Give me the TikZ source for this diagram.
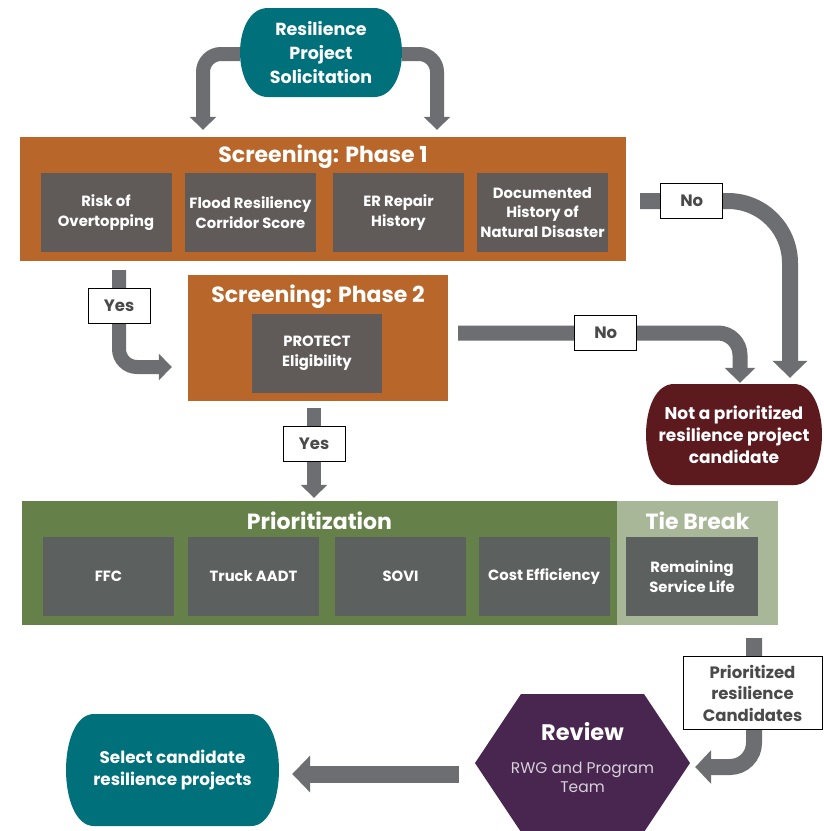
\documentclass[tikz,border=0pt]{standalone}
\usepackage{fontspec}
\setmainfont{Poppins}
\usetikzlibrary{arrows.meta}
\definecolor{solteal}{HTML}{00707A}
\definecolor{phorange}{HTML}{B9662B}
\definecolor{phgray}{HTML}{605B58}
\definecolor{priogreen}{HTML}{66804A}
\definecolor{tiegreen}{HTML}{A8B797}
\definecolor{priogray}{HTML}{5C605E}
\definecolor{notred}{HTML}{5C1A1F}
\definecolor{revpurple}{HTML}{48264F}
\definecolor{revtext}{HTML}{D8D0DA}
\definecolor{arrowgray}{HTML}{6D6E71}
\definecolor{lblgray}{HTML}{4A4A4A}
\begin{document}
\begin{tikzpicture}[x=1pt,y=-1pt,
    term/.style={text=white, align=center, inner sep=0pt, font=\bfseries\fontsize{17.5}{24}\selectfont,
      path picture={\fill[#1] ([xshift=28pt]path picture bounding box.north west) -- ([xshift=-28pt]path picture bounding box.north east)
        .. controls ([xshift=9.3pt]path picture bounding box.north east) and ([xshift=9.3pt]path picture bounding box.south east) .. ([xshift=-28pt]path picture bounding box.south east)
        -- ([xshift=28pt]path picture bounding box.south west)
        .. controls ([xshift=-9.3pt]path picture bounding box.south west) and ([xshift=-9.3pt]path picture bounding box.north west) .. cycle;}},
    phase/.style={fill=phorange, inner sep=0pt},
    crit/.style={fill=phgray, text=white, align=center, minimum width=131pt, minimum height=79pt, inner sep=0pt, font=\bfseries\fontsize{14.8}{19.5}\selectfont},
    ttl/.style={text=white, font=\bfseries\fontsize{22}{24}\selectfont},
    lbl/.style={draw=black, fill=white, sharp corners, line width=0.8pt, text=lblgray, align=center, minimum width=62pt, minimum height=35pt, inner sep=2pt, font=\bfseries\fontsize{16.5}{21.5}\selectfont},
    flow/.style={draw=arrowgray, line width=14pt, rounded corners=18pt, -{Triangle[width=26pt,length=13pt]}},
    hexa/.style={minimum width=215pt, minimum height=138pt, inner sep=0pt,
      path picture={\fill[revpurple] (path picture bounding box.west) -- ([xshift=46pt]path picture bounding box.north west) -- ([xshift=-46pt]path picture bounding box.north east) -- (path picture bounding box.east) -- ([xshift=-46pt]path picture bounding box.south east) -- ([xshift=46pt]path picture bounding box.south west) -- cycle;}}]
  \useasboundingbox[fill=white] (0,0) rectangle (824,831);
  % start
  \node[term=solteal, minimum width=162pt, minimum height=89pt] (sol) at (321,52.5) {Resilience\\Project\\Solicitation};
  % screening phase 1
  \node[phase, minimum width=606pt, minimum height=124pt] (ph1) at (323,199) {};
  \node[ttl] (ph1t) at ([yshift=-20pt]ph1.north) {Screening: Phase 1};
  \node[crit] (risk) at (106,212.5) {Risk of\\Overtopping};
  \node[crit] (flood) at (250.5,212.5) {Flood Resiliency\\Corridor Score};
  \node[crit] (er) at (398.5,212.5) {ER Repair\\History};
  \node[crit] (doc) at (542.5,212.5) {Documented\\History of\\Natural Disaster};
  % screening phase 2
  \node[phase, minimum width=260pt, minimum height=126pt] (ph2) at (318,338) {};
  \node[ttl] (ph2t) at ([yshift=-22pt]ph2.north) {Screening: Phase 2};
  \node[crit, minimum width=130pt] (protect) at (317,353.5) {PROTECT\\Eligibility};
  % rejected
  \node[term=notred, minimum width=176pt, minimum height=101pt, font=\bfseries\fontsize{17}{22}\selectfont] (np) at (734,434.5) {Not a prioritized\\resilience project\\candidate};
  % prioritization and tie break
  \node[fill=priogreen, minimum width=595pt, minimum height=124pt, inner sep=0pt] (prio) at (319.5,563) {};
  \node[fill=tiegreen, minimum width=161pt, minimum height=124pt, inner sep=0pt] (tie) at (697.5,563) {};
  \node[ttl] (priot) at ([yshift=-20pt]prio.north) {Prioritization};
  \node[ttl] (tiet) at ([yshift=-20pt]tie.north) {Tie Break};
  \node[crit, fill=priogray] (ffc) at (108.5,576.5) {FFC};
  \node[crit, fill=priogray] (aadt) at (253.5,576.5) {Truck AADT};
  \node[crit, fill=priogray] (sovi) at (400.5,576.5) {SOVI};
  \node[crit, fill=priogray] (cost) at (544,576.5) {Cost Efficiency};
  \node[crit, fill=priogray, minimum width=132pt] (life) at (692,576.5) {Remaining\\Service Life};
  % review and selection
  \node[hexa] (rev) at (582.5,763) {};
  \node[text=revtext, align=center, font=\fontsize{15.5}{19}\selectfont] (revt) at (582.5,758) {{\color{white}\bfseries\fontsize{22.5}{24}\selectfont Review}\\[14pt]RWG and Program\\Team};
  \node[term=solteal, minimum width=213pt, minimum height=112pt, font=\bfseries\fontsize{16.8}{22}\selectfont] (sel) at (172.5,770) {Select candidate\\resilience projects};
  % connectors
  \draw[flow, shorten >=7pt] ([yshift=-1.5pt]sol.west) -| ([xshift=-120pt]ph1.north);
  \draw[flow, shorten >=7pt] ([yshift=-1.5pt]sol.east) -| ([xshift=114pt]ph1.north);
  \draw[flow, shorten <=9pt, shorten >=16pt] ([xshift=-204pt]ph1.south) |- node[lbl, pos=0.21] (yes1) {Yes} ([yshift=-29pt]ph2.west);
  \draw[flow, line width=16pt, rounded corners=62pt, -{Triangle[width=34pt,length=17pt]}, shorten <=14pt, shorten >=6pt] ([yshift=-2pt]ph1.east) -| node[lbl, pos=0.2] (no1) {No} ([xshift=56pt]np.north);
  \draw[flow, line width=15pt, rounded corners=22pt, -{Triangle[width=30pt,length=15pt]}, shorten <=10pt, shorten >=1pt] ([yshift=5pt]ph2.east) -| node[lbl, pos=0.27] (no2) {No} ([xshift=6pt]np.north);
  \draw[flow, shorten <=7pt, shorten >=3pt] ([xshift=-4pt]ph2.south) -- node[lbl, pos=0.43] (yes2) {Yes} ([xshift=-4pt]ph2.south |- prio.north);
  \draw[flow, line width=16pt, rounded corners=24pt, -{Triangle[width=33pt,length=16pt]}, shorten <=13pt, shorten >=5pt] ([xshift=56.5pt]tie.south) |- node[lbl, pos=0.24, minimum width=139pt, minimum height=73pt, xshift=-1.5pt] (cand) {Prioritized\\resilience\\Candidates} ([yshift=-4pt]rev.east);
  \draw[flow, line width=17pt, -{Triangle[width=36pt,length=18pt]}, shorten <=16pt, shorten >=13pt] ([yshift=-11pt]rev.west) -- ([yshift=-11pt]rev.west -| sel.east);
\end{tikzpicture}
\end{document}
